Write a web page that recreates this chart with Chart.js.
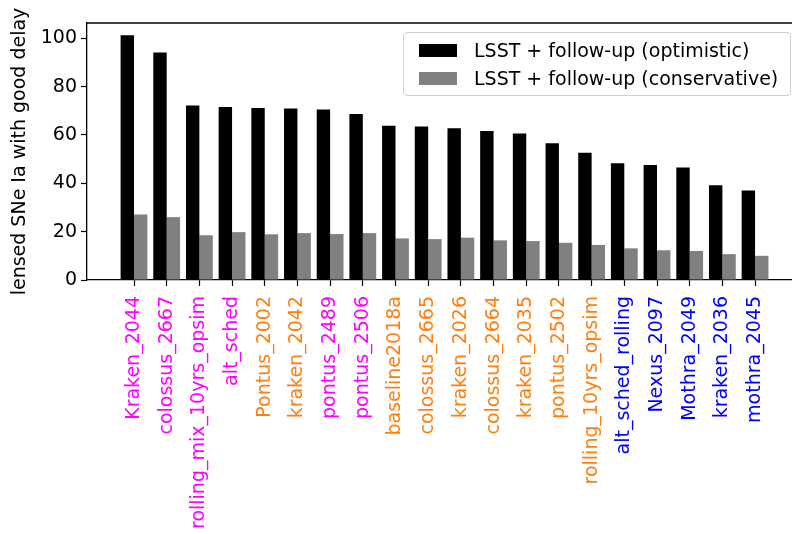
<!DOCTYPE html>
<html lang="en">
<head>
  <meta charset="UTF-8" />
  <title>Lensed SNe Ia with good delay</title>
  <script src="https://cdn.jsdelivr.net/npm/chart.js"></script>
  <style>
    body {
      margin: 0;
      overflow: hidden;
      background: #fff;
      font-family: "DejaVu Sans", sans-serif;
    }
    #wrap {
      position: relative;
      width: 792px;
      height: 534px;
    }
    #legend {
      position: absolute;
      left: 403px;
      top: 32px;
      width: 386px;
      height: 62px;
      border: 1px solid #d0d0d0;
      border-radius: 4px;
      background: rgba(255, 255, 255, 0.8);
      font-size: 19px;
      color: #000;
    }
    .item {
      position: absolute;
      left: 15px;
      height: 24px;
      line-height: 24px;
      white-space: nowrap;
    }
    .swatch {
      display: inline-block;
      width: 38px;
      height: 13px;
      vertical-align: middle;
      margin-right: 17px;
      position: relative;
      top: -1px;
    }
  </style>
</head>
<body>
  <div id="wrap">
    <canvas id="grafica" width="792" height="534"></canvas>
    <div id="legend"></div>
  </div>

  <script>
    const categorias = [
      "Kraken_2044", "colossus_2667", "rolling_mix_10yrs_opsim", "alt_sched",
      "Pontus_2002", "kraken_2042", "pontus_2489", "pontus_2506",
      "baseline2018a", "colossus_2665", "kraken_2026", "colossus_2664",
      "kraken_2035", "pontus_2502", "rolling_10yrs_opsim", "alt_sched_rolling",
      "Nexus_2097", "Mothra_2049", "kraken_2036", "mothra_2045"
    ];
    const colorEtiquetas = [
      "#ff00ff", "#ff00ff", "#ff00ff", "#ff00ff",
      "#ff7f0e", "#ff7f0e", "#ff00ff", "#ff00ff",
      "#ff7f0e", "#ff7f0e", "#ff7f0e", "#ff7f0e",
      "#ff7f0e", "#ff7f0e", "#ff7f0e", "#0000ff",
      "#0000ff", "#0000ff", "#0000ff", "#0000ff"
    ];
    const optimista = [
      101.2, 94.1, 72.2, 71.6, 71.1, 70.9, 70.5, 68.7, 63.8, 63.5,
      62.8, 61.6, 60.6, 56.6, 52.6, 48.3, 47.6, 46.5, 39.2, 37.0
    ];
    const conservador = [
      27.1, 26.0, 18.5, 19.8, 18.9, 19.4, 19.0, 19.4, 17.2, 16.9,
      17.5, 16.4, 16.1, 15.4, 14.5, 13.1, 12.3, 12.0, 10.7, 10.0
    ];
    const series = [
      { label: "LSST + follow-up (optimistic)", color: "#000000", data: optimista },
      { label: "LSST + follow-up (conservative)", color: "#808080", data: conservador }
    ];
    const yTicks = [0, 20, 40, 60, 80, 100];

    const fuente = { family: "DejaVu Sans", size: 19 };

    // marco superior (el derecho queda fuera de la imagen)
    const marco = {
      id: "marco",
      afterDraw(chart) {
        const a = chart.chartArea;
        const ctx = chart.ctx;
        ctx.save();
        ctx.strokeStyle = "#000";
        ctx.lineWidth = 1.3;
        ctx.beginPath();
        ctx.moveTo(a.left, a.top);
        ctx.lineTo(a.right, a.top);
        ctx.stroke();
        ctx.restore();
      }
    };

    const ctx = document.getElementById("grafica").getContext("2d");
    new Chart(ctx, {
      type: "bar",
      data: {
        datasets: series.map(s => ({
          label: s.label,
          data: s.data.map((v, i) => ({ x: i, y: v })),
          backgroundColor: s.color,
          borderWidth: 0,
          categoryPercentage: 0.82,
          barPercentage: 1.0
        }))
      },
      plugins: [marco],
      options: {
        responsive: false,
        animation: false,
        layout: { padding: { top: 23, right: 0, left: 0, bottom: 0 } },
        plugins: {
          legend: { display: false },
          tooltip: { enabled: false }
        },
        scales: {
          x: {
            type: "linear",
            min: -1.438,
            max: 20.13,
            offset: false,
            grid: {
              offset: false,
              drawOnChartArea: false,
              drawTicks: true,
              tickLength: 6,
              tickColor: "#000",
              tickWidth: 1.2
            },
            border: { color: "#000", width: 1.3 },
            ticks: {
              autoSkip: false,
              minRotation: 90,
              maxRotation: 90,
              padding: 10,
              font: fuente,
              color: c => colorEtiquetas[c.index],
              callback: v => categorias[v]
            },
            afterBuildTicks: axis => {
              axis.ticks = categorias.map((_, i) => ({ value: i }));
            },
            afterFit: axis => {
              axis.height = 254;
              axis.paddingLeft = 0;
              axis.paddingRight = 0;
            }
          },
          y: {
            min: 0,
            max: 106.3,
            grid: {
              drawOnChartArea: false,
              tickLength: 6,
              tickColor: "#000",
              tickWidth: 1.2
            },
            border: { color: "#000", width: 1.3 },
            title: {
              display: true,
              text: "lensed SNe Ia with good delay",
              font: fuente,
              color: "#000",
              padding: { top: 9, bottom: 0 }
            },
            ticks: {
              includeBounds: false,
              padding: 4,
              font: fuente,
              color: "#000"
            },
            afterBuildTicks: axis => {
              axis.ticks = yTicks.map(v => ({ value: v }));
            },
            afterFit: axis => {
              axis.width = 87;
            }
          }
        }
      }
    });

    const leyenda = document.getElementById("legend");
    series.forEach((s, i) => {
      const item = document.createElement("div");
      item.className = "item";
      item.style.top = (5 + i * 28) + "px";
      const sw = document.createElement("span");
      sw.className = "swatch";
      sw.style.background = s.color;
      item.appendChild(sw);
      item.appendChild(document.createTextNode(s.label));
      leyenda.appendChild(item);
    });
  </script>
</body>
</html>
